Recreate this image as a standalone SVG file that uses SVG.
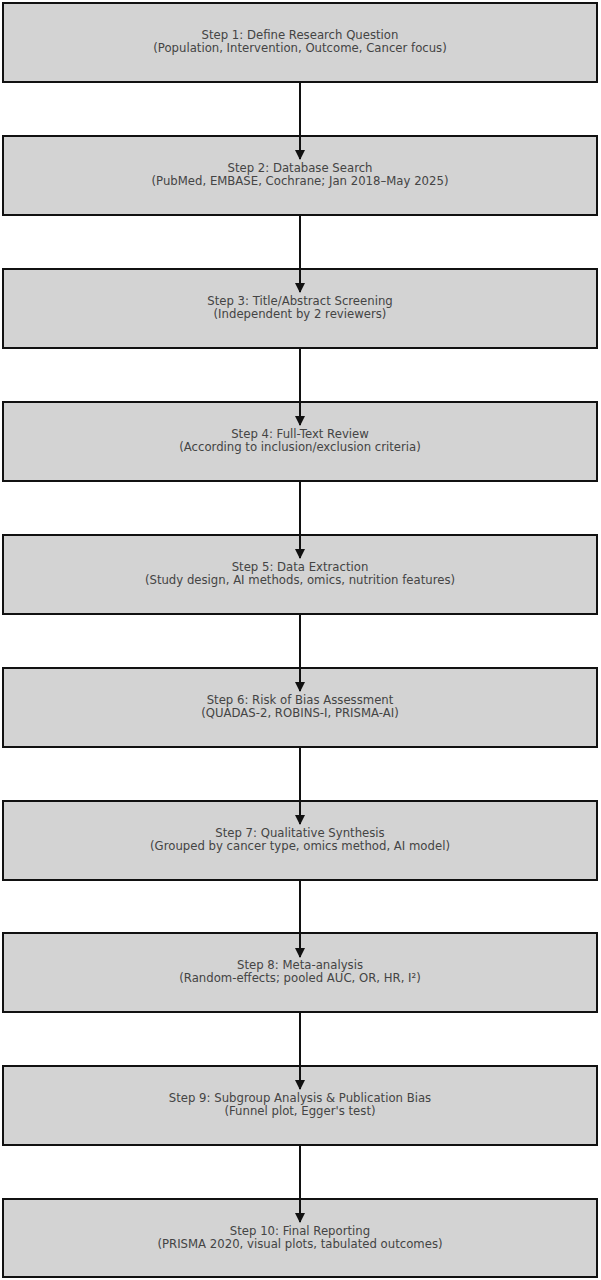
<svg xmlns="http://www.w3.org/2000/svg" width="601" height="1280" viewBox="0 0 601 1280">
<style>
.b{fill:#d3d3d3;stroke:#111;stroke-width:2}
.t{font-family:"DejaVu Sans",sans-serif;font-size:11.7px;fill:#444;text-anchor:middle}
.c{stroke:#111;stroke-width:2;fill:none}
</style>
<defs><marker id="a" viewBox="0 0 10 10" refX="9" refY="5" markerWidth="5" markerHeight="5" orient="auto"><path d="M0,0L10,5L0,10z" fill="#111"/></marker></defs>
<rect width="601" height="1280" fill="#fff"/>
<g id="n1"><rect class="b" x="3" y="3" width="594" height="79"/><text class="t" x="300" y="39">Step 1: Define Research Question</text><text class="t" x="300" y="52">(Population, Intervention, Outcome, Cancer focus)</text></g>
<g id="n2"><rect class="b" x="3" y="136" width="594" height="79"/><text class="t" x="300" y="172">Step 2: Database Search</text><text class="t" x="300" y="185">(PubMed, EMBASE, Cochrane; Jan 2018–May 2025)</text></g>
<g id="n3"><rect class="b" x="3" y="269" width="594" height="79"/><text class="t" x="300" y="305">Step 3: Title/Abstract Screening</text><text class="t" x="300" y="318">(Independent by 2 reviewers)</text></g>
<g id="n4"><rect class="b" x="3" y="402" width="594" height="79"/><text class="t" x="300" y="438">Step 4: Full-Text Review</text><text class="t" x="300" y="451">(According to inclusion/exclusion criteria)</text></g>
<g id="n5"><rect class="b" x="3" y="535" width="594" height="79"/><text class="t" x="300" y="571">Step 5: Data Extraction</text><text class="t" x="300" y="584">(Study design, AI methods, omics, nutrition features)</text></g>
<g id="n6"><rect class="b" x="3" y="668" width="594" height="79"/><text class="t" x="300" y="704">Step 6: Risk of Bias Assessment</text><text class="t" x="300" y="717">(QUADAS-2, ROBINS-I, PRISMA-AI)</text></g>
<g id="n7"><rect class="b" x="3" y="801" width="594" height="79"/><text class="t" x="300" y="837">Step 7: Qualitative Synthesis</text><text class="t" x="300" y="850">(Grouped by cancer type, omics method, AI model)</text></g>
<g id="n8"><rect class="b" x="3" y="933" width="594" height="79"/><text class="t" x="300" y="969">Step 8: Meta-analysis</text><text class="t" x="300" y="982">(Random-effects; pooled AUC, OR, HR, I²)</text></g>
<g id="n9"><rect class="b" x="3" y="1066" width="594" height="79"/><text class="t" x="300" y="1102">Step 9: Subgroup Analysis &amp; Publication Bias</text><text class="t" x="300" y="1115">(Funnel plot, Egger's test)</text></g>
<g id="n10"><rect class="b" x="3" y="1199" width="594" height="78"/><text class="t" x="300" y="1235">Step 10: Final Reporting</text><text class="t" x="300" y="1248">(PRISMA 2020, visual plots, tabulated outcomes)</text></g>
<g id="connectors">
<line class="c" x1="300" y1="82" x2="300" y2="159" marker-end="url(#a)"/>
<line class="c" x1="300" y1="215" x2="300" y2="292" marker-end="url(#a)"/>
<line class="c" x1="300" y1="348" x2="300" y2="425" marker-end="url(#a)"/>
<line class="c" x1="300" y1="481" x2="300" y2="558" marker-end="url(#a)"/>
<line class="c" x1="300" y1="614" x2="300" y2="691" marker-end="url(#a)"/>
<line class="c" x1="300" y1="747" x2="300" y2="824" marker-end="url(#a)"/>
<line class="c" x1="300" y1="880" x2="300" y2="957" marker-end="url(#a)"/>
<line class="c" x1="300" y1="1012" x2="300" y2="1089" marker-end="url(#a)"/>
<line class="c" x1="300" y1="1145" x2="300" y2="1222" marker-end="url(#a)"/>
</g>
</svg>
